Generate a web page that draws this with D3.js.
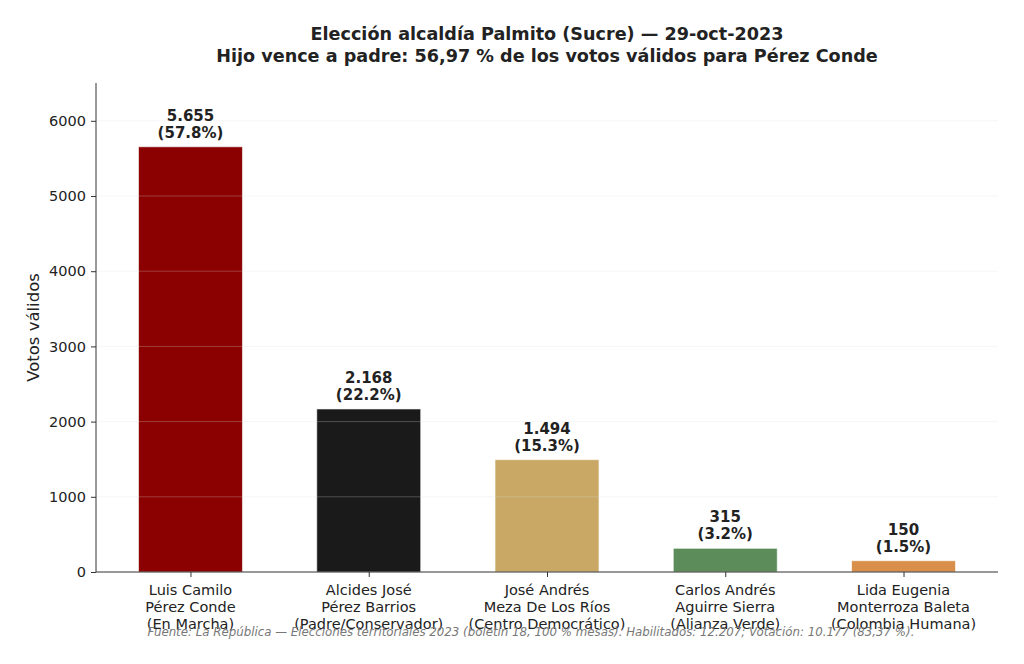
<!DOCTYPE html>
<html>
<head>
<meta charset="utf-8">
<script src="https://cdn.jsdelivr.net/npm/d3@7/dist/d3.min.js"></script>
<style>
  html, body { margin: 0; padding: 0; background: #fff; }
  svg { display: block; font-family: "DejaVu Sans", sans-serif; }
</style>
</head>
<body>
<svg id="chart" width="1024" height="664"></svg>
<script>
const categories = [
  ["Luis Camilo", "Pérez Conde", "(En Marcha)"],
  ["Alcides José", "Pérez Barrios", "(Padre/Conservador)"],
  ["José Andrés", "Meza De Los Ríos", "(Centro Democrático)"],
  ["Carlos Andrés", "Aguirre Sierra", "(Alianza Verde)"],
  ["Lida Eugenia", "Monterroza Baleta", "(Colombia Humana)"]
];
const votes = [5655, 2168, 1494, 315, 150];
const valueLabels = ["5.655", "2.168", "1.494", "315", "150"];
const pctLabels = ["(57.8%)", "(22.2%)", "(15.3%)", "(3.2%)", "(1.5%)"];
const colors = ["#8b0000", "#1a1a1a", "#c8a864", "#5b8c5a", "#d98f4a"];
const yTicks = [0, 1000, 2000, 3000, 4000, 5000, 6000];
const titleLines = [
  "Elección alcaldía Palmito (Sucre) — 29-oct-2023",
  "Hijo vence a padre: 56,97 % de los votos válidos para Pérez Conde"
];
const yLabel = "Votos válidos";
const footer = "Fuente: La República — Elecciones territoriales 2023 (boletín 18, 100 % mesas). Habilitados: 12.207; Votación: 10.177 (83,37 %).";

const svg = d3.select("#chart");
const L = 96, R = 998, T = 83, B = 572;
const barW = 0.6;
const x = d3.scaleLinear()
  .domain([-barW / 2 - (4 + barW) * 0.05, 4 + barW / 2 + (4 + barW) * 0.05])
  .range([L, R]);
const y = d3.scaleLinear().domain([0, 6503]).range([B, T]);

// bars
svg.append("g").selectAll("rect").data(votes).join("rect")
  .attr("x", (d, i) => x(i - barW / 2) + 1.5)
  .attr("width", (d, i) => x(i + barW / 2) - x(i - barW / 2) - 3)
  .attr("y", d => y(d))
  .attr("height", d => y(0) - y(d))
  .attr("fill", (d, i) => colors[i])
  .attr("stroke", "rgba(255,255,255,0.6)")
  .attr("stroke-width", 1);

// grid (drawn above bars, faint)
svg.append("g").selectAll("line").data(yTicks.filter(t => t > 0)).join("line")
  .attr("x1", L).attr("x2", R)
  .attr("y1", d => y(d)).attr("y2", d => y(d))
  .attr("stroke", "#e0e0e0").attr("stroke-opacity", 0.35).attr("stroke-width", 0.8);

// y axis
const yAxis = svg.append("g").attr("transform", `translate(${L},0)`)
  .call(d3.axisLeft(y).tickValues(yTicks).tickSize(5).tickPadding(5).tickFormat(d3.format("d")));
yAxis.select(".domain").attr("stroke", "#333").attr("d", `M0,${T}V${B}`);
yAxis.selectAll(".tick line").attr("stroke", "#333");
yAxis.selectAll(".tick text").attr("fill", "#222").style("font-size", "14.5px").style("font-family", "DejaVu Sans");

// x axis
const xAxis = svg.append("g").attr("transform", `translate(0,${B})`)
  .call(d3.axisBottom(x).tickValues(d3.range(categories.length)).tickSize(5).tickFormat(""));
xAxis.select(".domain").attr("stroke", "#333").attr("d", `M${L},0H${R}`);
xAxis.selectAll(".tick line").attr("stroke", "#333");

// category labels
const catG = svg.append("g");
categories.forEach((lines, i) => {
  const t = catG.append("text")
    .attr("x", x(i)).attr("y", B + 23)
    .attr("text-anchor", "middle")
    .attr("fill", "#222")
    .style("font-size", "14.5px");
  lines.forEach((ln, j) => {
    t.append("tspan").attr("x", x(i)).attr("dy", j === 0 ? 0 : 17).text(ln);
  });
});

// value labels
const valG = svg.append("g");
votes.forEach((v, i) => {
  valG.append("text")
    .attr("x", x(i)).attr("y", y(v) - 26)
    .attr("text-anchor", "middle").attr("font-weight", "bold")
    .attr("fill", "#222").style("font-size", "15px")
    .text(valueLabels[i]);
  valG.append("text")
    .attr("x", x(i)).attr("y", y(v) - 9)
    .attr("text-anchor", "middle").attr("font-weight", "bold")
    .attr("fill", "#222").style("font-size", "15px")
    .text(pctLabels[i]);
});

// title
titleLines.forEach((ln, j) => {
  svg.append("text")
    .attr("x", (L + R) / 2).attr("y", 40 + j * 22)
    .attr("text-anchor", "middle").attr("font-weight", "bold")
    .attr("fill", "#222").style("font-size", "17.6px")
    .text(ln);
});

// y label
svg.append("text")
  .attr("transform", `translate(39,${(T + B) / 2}) rotate(-90)`)
  .attr("text-anchor", "middle")
  .attr("fill", "#222").style("font-size", "16.5px")
  .text(yLabel);

// footer
svg.append("text")
  .attr("x", 531).attr("y", 636)
  .attr("text-anchor", "middle")
  .attr("font-style", "italic")
  .attr("fill", "#777").style("font-size", "11.8px")
  .text(footer);
</script>
</body>
</html>
